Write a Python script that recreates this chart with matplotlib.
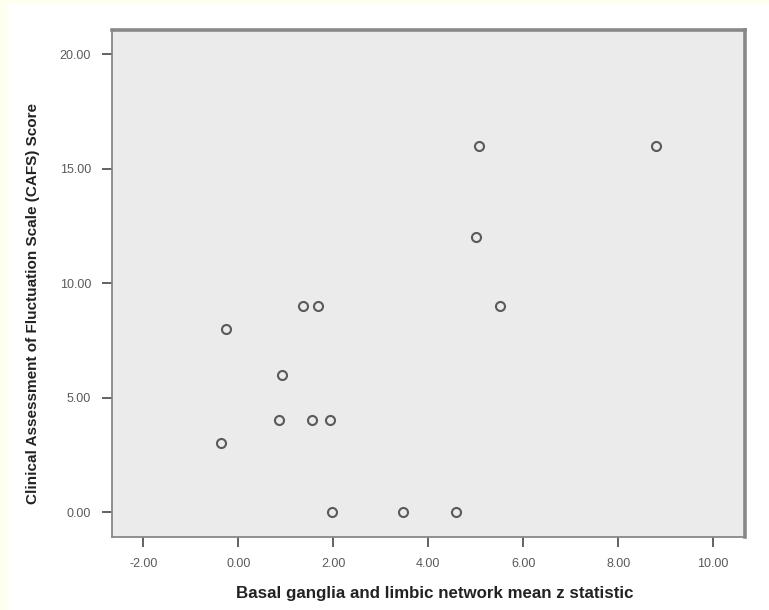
import matplotlib
matplotlib.use('Agg')
import matplotlib.pyplot as plt
from matplotlib.patches import Rectangle

# Basal ganglia and limbic network mean z statistic vs CAFS score
z_stat = [-0.36, -0.26, 0.86, 0.92, 1.36, 1.68, 1.55, 1.93, 1.98, 3.47, 4.58, 5.00, 5.07, 5.51, 8.79]
cafs = [3, 8, 4, 6, 9, 9, 4, 4, 0, 0, 0, 12, 16, 9, 16]

x_ticks = [-2, 0, 2, 4, 6, 8, 10]
y_ticks = [0, 5, 10, 15, 20]

plt.rcParams['font.family'] = ['Liberation Sans', 'DejaVu Sans']

W, H = 769, 610
fig = plt.figure(figsize=(W / 100, H / 100), dpi=100)
fig.patch.set_facecolor('white')

# cream strips along the left and top edge
fig.patches.append(Rectangle((0, 0), 8 / W, 1, transform=fig.transFigure,
                             facecolor='#fffff0', edgecolor='none'))
fig.patches.append(Rectangle((0, 1 - 4 / H), 1, 4 / H, transform=fig.transFigure,
                             facecolor='#fffff0', edgecolor='none'))

left, right, top, bottom = 112, 745, 30, 537
ax = fig.add_axes([left / W, 1 - bottom / H, (right - left) / W, (bottom - top) / H])
ax.set_facecolor('#ebebeb')

ax.plot(z_stat, cafs, linestyle='none', marker='o', markersize=6.5,
        markerfacecolor='none', markeredgecolor='#5a5a5a', markeredgewidth=1.5)

ax.set_xlim(-2.66, 10.67)
ax.set_ylim(-1.09, 21.05)
ax.set_xticks(x_ticks)
ax.set_yticks(y_ticks)
ax.set_xticklabels([f'{v:.2f}' for v in x_ticks])
ax.set_yticklabels([f'{v:.2f}' for v in y_ticks])
ax.tick_params(axis='both', direction='out', length=7, width=1.3, color='#555555',
               labelsize=9, labelcolor='#5a5a5a')
ax.tick_params(axis='x', pad=8)
ax.tick_params(axis='y', pad=8)

for side in ['left', 'bottom']:
    ax.spines[side].set_color('#888888')
    ax.spines[side].set_linewidth(1.3)
for side in ['top', 'right']:
    ax.spines[side].set_color('#888888')
    ax.spines[side].set_linewidth(2.6)

ax.set_xlabel('Basal ganglia and limbic network mean z statistic',
              fontsize=12.2, fontweight='bold', color='#222222')
ax.set_ylabel('Clinical Assessment of Fluctuation Scale (CAFS) Score',
              fontsize=11, fontweight='bold', color='#222222')
# label positions in axes fractions
ax.xaxis.set_label_coords(0.51, -0.097)
ax.yaxis.set_label_coords(-0.114, 0.46)

fig.savefig('out.png', dpi=100, facecolor=fig.get_facecolor())
